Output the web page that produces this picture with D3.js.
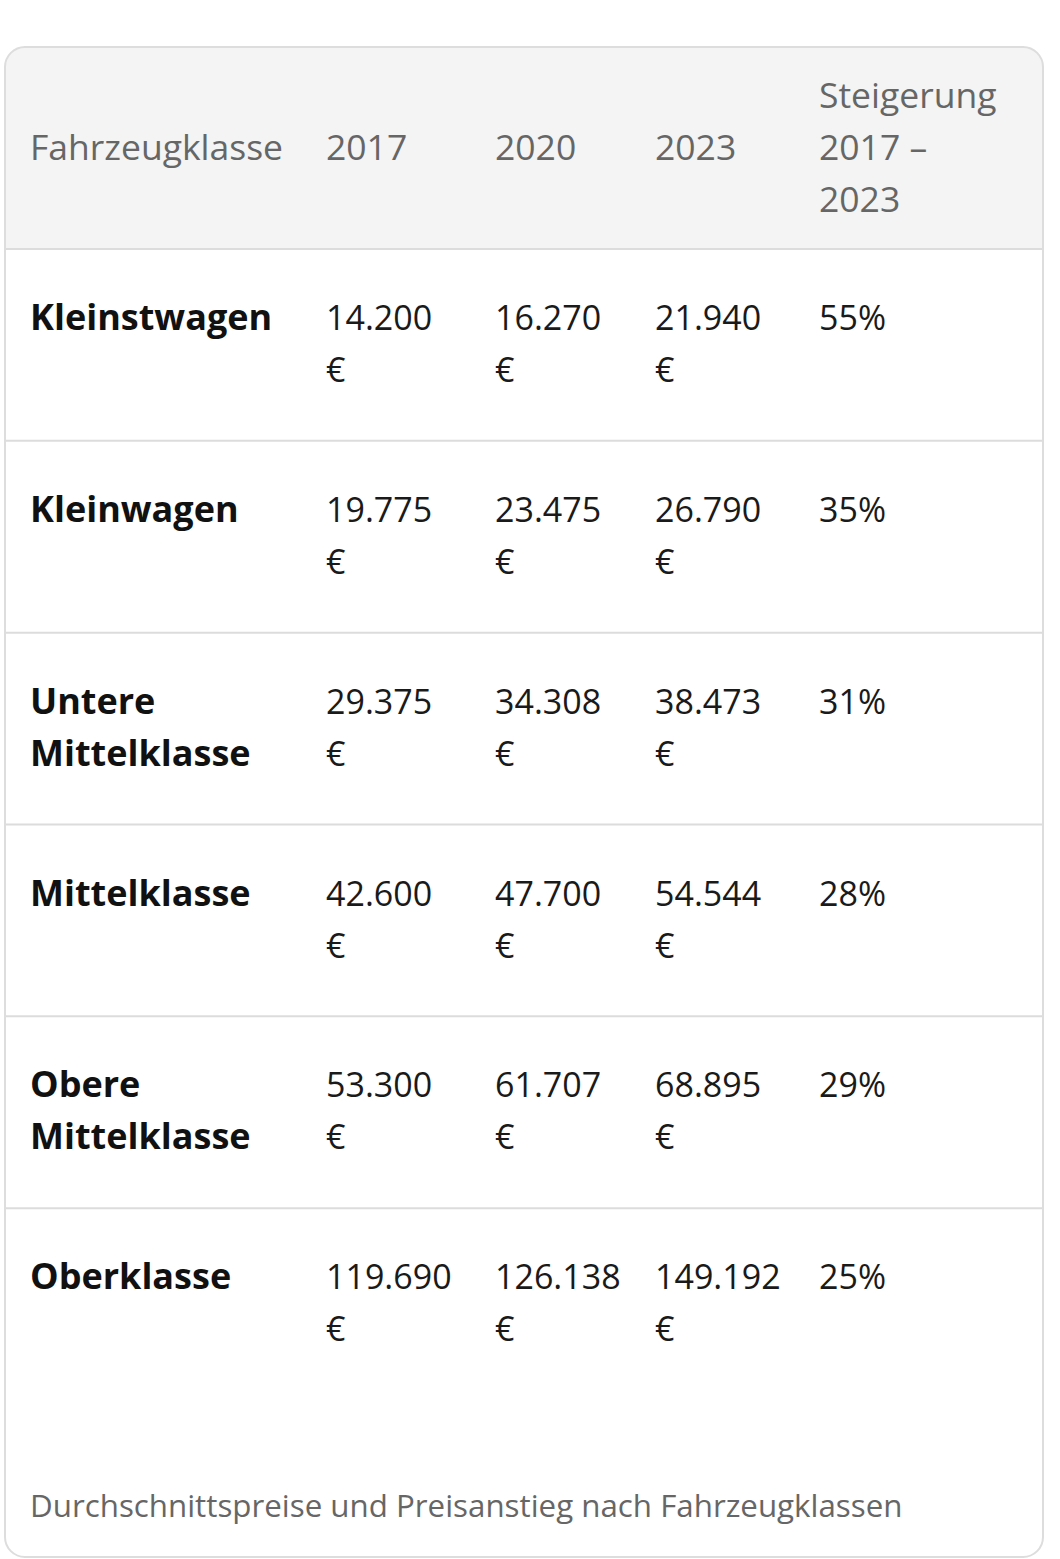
<!DOCTYPE html>
<html lang="de">
<head>
<meta charset="UTF-8">
<title>Durchschnittspreise nach Fahrzeugklassen</title>
<script src="https://d3js.org/d3.v7.min.js"></script>
<style>
    body {
        margin: 0;
        background: #fff;
        font-family: "Open Sans", "Noto Sans", sans-serif;
    }
    .head {
        fill: #666;
        font-size: 35.5px;
    }
    .cell {
        fill: #1a1a1a;
        font-size: 34px;
    }
    .label {
        fill: #111;
        font-size: 36px;
        font-weight: 700;
    }
    .caption {
        fill: #666;
        font-size: 31.3px;
    }
</style>
</head>
<body>
<svg id="chart"></svg>
<script>
    // Data
    const headers = [["Fahrzeugklasse"], ["2017"], ["2020"], ["2023"], ["Steigerung", "2017 \u2013", "2023"]];
    const classes = [
        ["Kleinstwagen"],
        ["Kleinwagen"],
        ["Untere", "Mittelklasse"],
        ["Mittelklasse"],
        ["Obere", "Mittelklasse"],
        ["Oberklasse"]
    ];
    const price2017 = [14200, 19775, 29375, 42600, 53300, 119690];
    const price2020 = [16270, 23475, 34308, 47700, 61707, 126138];
    const price2023 = [21940, 26790, 38473, 54544, 68895, 149192];
    const increase = [55, 35, 31, 28, 29, 25];
    const caption = "Durchschnittspreise und Preisanstieg nach Fahrzeugklassen";

    const width = 1060, height = 1559;
    const svg = d3.select("#chart").attr("width", width).attr("height", height);

    const card = { x: 5, y: 47, w: 1038, h: 1510, r: 20 };
    const headBottom = 249;
    const tableBottom = 1400;
    const lineH = 52;

    // German number format: 14.200
    const fmt = d3.formatLocale({ decimal: ",", thousands: ".", grouping: [3], currency: ["", " €"] }).format(",d");

    // Column positions
    const colX = d3.scaleOrdinal().domain([0, 1, 2, 3, 4]).range([30, 326, 495, 655, 819]);
    // Row bands
    const y = d3.scaleBand().domain(d3.range(classes.length)).range([headBottom, tableBottom]);

    // clip for rounded card
    svg.append("defs").append("clipPath").attr("id", "cardClip")
        .append("rect")
        .attr("x", card.x).attr("y", card.y)
        .attr("width", card.w).attr("height", card.h)
        .attr("rx", card.r);

    const g = svg.append("g").attr("clip-path", "url(#cardClip)");

    g.append("rect")
        .attr("x", card.x).attr("y", card.y)
        .attr("width", card.w).attr("height", headBottom - card.y)
        .attr("fill", "#f4f4f4");

    // row separators
    g.selectAll("line.sep")
        .data(d3.range(classes.length))
        .join("line")
        .attr("class", "sep")
        .attr("x1", card.x).attr("x2", card.x + card.w)
        .attr("y1", d => y(d)).attr("y2", d => y(d))
        .attr("stroke", "#dcdcdc")
        .attr("stroke-width", 2);

    // card border
    svg.append("rect")
        .attr("x", card.x).attr("y", card.y)
        .attr("width", card.w).attr("height", card.h)
        .attr("rx", card.r)
        .attr("fill", "none")
        .attr("stroke", "#dddddd")
        .attr("stroke-width", 2);

    function multiline(sel, lines, x, y0) {
        sel.selectAll("tspan")
            .data(lines)
            .join("tspan")
            .attr("x", x)
            .attr("y", (d, i) => y0 + i * lineH)
            .text(d => d);
    }

    // header
    const headBase = 160;
    svg.append("g").selectAll("text")
        .data(headers)
        .join("text")
        .attr("class", "head")
        .each(function (d, i) {
            const y0 = headBase - (d.length - 1) / 2 * lineH;
            multiline(d3.select(this), d, colX(i), y0);
        });

    // body rows
    const rows = classes.map((c, i) => [
        c,
        [fmt(price2017[i]), "€"],
        [fmt(price2020[i]), "€"],
        [fmt(price2023[i]), "€"],
        [increase[i] + "%"]
    ]);

    const rowG = svg.append("g").selectAll("g")
        .data(rows)
        .join("g");

    rowG.selectAll("text")
        .data((d, i) => d.map((lines, j) => ({ lines, j, row: i })))
        .join("text")
        .attr("class", d => d.j === 0 ? "label" : "cell")
        .each(function (d) {
            multiline(d3.select(this), d.lines, colX(d.j), y(d.row) + 81);
        });

    svg.append("text")
        .attr("class", "caption")
        .attr("x", 30)
        .attr("y", 1517)
        .text(caption);
</script>
</body>
</html>
